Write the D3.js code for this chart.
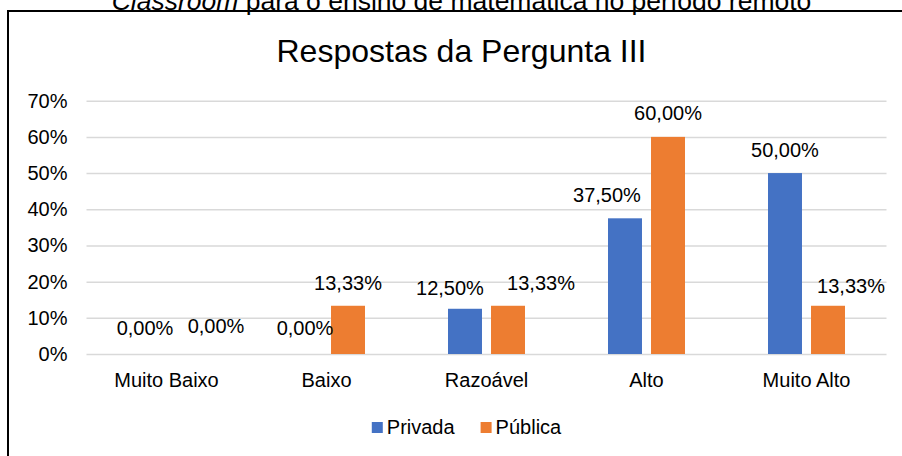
<!DOCTYPE html>
<html>
<head>
<meta charset="utf-8">
<script src="https://cdn.jsdelivr.net/npm/d3@7"></script>
<style>
  body { margin: 0; background: #fff; }
  svg { display: block; font-family: Arial, 'Liberation Sans', sans-serif; }
</style>
</head>
<body>
<svg id="chart"></svg>
<script>
// chart data
const categories = ['Muito Baixo', 'Baixo', 'Razoável', 'Alto', 'Muito Alto'];
const seriesNames = ['Privada', 'Pública'];
const privada = [0, 0, 0.125, 0.375, 0.5];
const publica = [0, 0.1333, 0.1333, 0.6, 0.1333];
const yTicks = [0, 0.1, 0.2, 0.3, 0.4, 0.5, 0.6, 0.7];

// label nudges (px), the labels were moved by hand in the original
const labelDx = [[0, 0, -15, -18, 0], [28, 0, 33, 0, 23]];
const labelDy = [[-3, -3, 2, 0, 0], [-5, 0, 0, -1, 3]];

const colors = ['#4472C4', '#ED7D31'];

const W = 902, H = 456;
const margin = { top: 100.7, right: 15.5, bottom: 102, left: 86.5 };
const width = W - margin.left - margin.right,
  height = H - margin.top - margin.bottom;

const svg = d3.select('#chart').attr('width', W).attr('height', H);

// caption above the chart box (cut off in the source)
const cap = svg.append('text')
  .attr('x', 461.5)
  .attr('y', 9.5)
  .attr('text-anchor', 'middle')
  .style('font-size', '26.5px')
  .attr('fill', '#000');
cap.append('tspan').style('font-style', 'italic').text('Classroom');
cap.append('tspan').text(' para o ensino de matemática no período remoto');

// chart border
svg.append('rect')
  .attr('x', 8).attr('y', 11)
  .attr('width', 1000).attr('height', 1000)
  .attr('fill', 'none')
  .attr('stroke', '#000')
  .attr('stroke-width', 2);

svg.append('text')
  .attr('x', 461.5)
  .attr('y', 61.5)
  .attr('text-anchor', 'middle')
  .style('font-size', '32px')
  .attr('fill', '#000')
  .text('Respostas da Pergunta III');

const g = svg.append('g')
  .attr('transform', 'translate(' + margin.left + ',' + margin.top + ')');

const x0 = d3.scaleBand().domain(categories).range([0, width]).padding(0);
const x1 = d3.scaleBand().domain(seriesNames)
  .range([x0.bandwidth() / 2 - 38.5, x0.bandwidth() / 2 + 38.5])
  .paddingInner(0.21).paddingOuter(0);
const y = d3.scaleLinear().domain([0, 0.7]).range([height, 0]);

// Y axis with gridlines
const yAxis = g.append('g')
  .call(d3.axisLeft(y)
    .tickValues(yTicks)
    .tickSize(-width)
    .tickPadding(19)
    .tickFormat(d => Math.round(d * 100) + '%'));
yAxis.select('.domain').remove();
yAxis.selectAll('line').attr('stroke', '#d9d9d9').attr('stroke-width', 1.5);
yAxis.selectAll('text').style('font-size', '20px').attr('fill', '#000');

// X axis
const xAxis = g.append('g')
  .attr('transform', 'translate(0,' + height + ')')
  .call(d3.axisBottom(x0).tickSize(0).tickPadding(19));
xAxis.select('.domain').remove();
xAxis.selectAll('text').style('font-size', '20px').attr('fill', '#000');

const seriesValues = [privada, publica];
const rows = [];
seriesValues.forEach(function (vals, s) {
  vals.forEach(function (v, i) {
    rows.push({ s: s, i: i, cat: categories[i], name: seriesNames[s], value: v });
  });
});

g.selectAll('rect.bar')
  .data(rows)
  .enter()
  .append('rect')
  .attr('class', 'bar')
  .attr('x', d => x0(d.cat) + x1(d.name))
  .attr('width', x1.bandwidth())
  .attr('y', d => y(d.value))
  .attr('height', d => height - y(d.value))
  .attr('fill', d => colors[d.s]);

const fmt = v => (v * 100).toFixed(2).replace('.', ',') + '%';

g.selectAll('text.lbl')
  .data(rows)
  .enter()
  .append('text')
  .attr('class', 'lbl')
  .attr('x', d => x0(d.cat) + x1(d.name) + x1.bandwidth() / 2 + labelDx[d.s][d.i])
  .attr('y', d => y(d.value) - 16 + labelDy[d.s][d.i])
  .attr('text-anchor', 'middle')
  .style('font-size', '20px')
  .attr('fill', '#000')
  .text(d => fmt(d.value));

// legend
const legend = svg.append('g');
let lx = 0;
seriesNames.forEach(function (name, s) {
  const item = legend.append('g').attr('transform', 'translate(' + lx + ',0)');
  item.append('rect')
    .attr('x', 0).attr('y', -12)
    .attr('width', 11).attr('height', 11)
    .attr('fill', colors[s]);
  const t = item.append('text')
    .attr('x', 15).attr('y', 0)
    .style('font-size', '20px')
    .attr('fill', '#000')
    .text(name);
  lx += 15 + t.node().getComputedTextLength() + 26;
});
const legendW = lx - 26;
legend.attr('transform', 'translate(' + (466.5 - legendW / 2) + ',434)');
</script>
</body>
</html>
